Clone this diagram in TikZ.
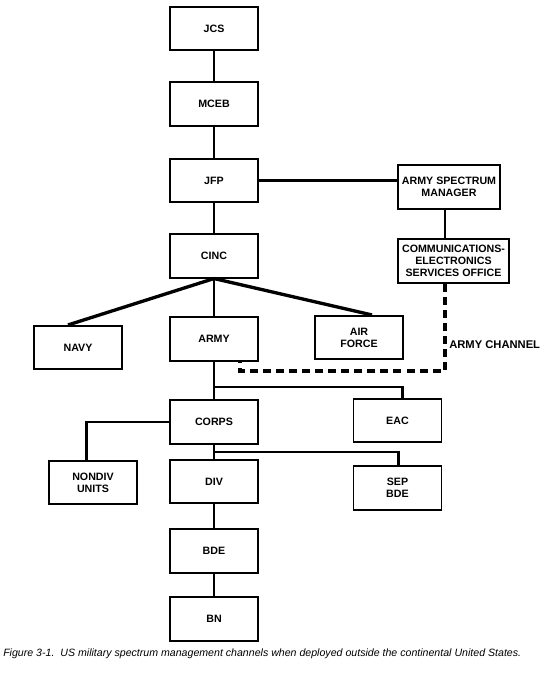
\documentclass[tikz,border=0pt]{standalone}
\usepackage{fontspec}
\setmainfont{Liberation Sans}
\begin{document}
\begin{tikzpicture}[x=0.75pt,y=-0.75pt,
  box/.style={draw,line width=1.3pt,minimum width=66pt,minimum height=32.5pt,
    inner sep=1pt,align=center,font=\bfseries\fontsize{8}{9}\selectfont},
  link/.style={line width=2.1pt},
  channel/.style={line width=2.6pt,dash pattern=on 6pt off 3.8pt}]
\useasboundingbox (0,0) rectangle (550,685);
% command chain
\node[box] (jcs) at (214,28.5) {JCS};
\node[box] (mceb) at (214,104) {MCEB};
\node[box] (jfp) at (214,180.5) {JFP};
\node[box] (cinc) at (214,256) {CINC};
% services
\node[box] (navy) at (78,347.5) {NAVY};
\node[box] (army) at (214,339) {ARMY};
\node[box] (airforce) at (359,337.5) {AIR\\FORCE};
% army side
\node[box] (corps) at (214,422) {CORPS};
\node[box] (eac) at (397.5,420.5) {EAC};
\node[box] (nondiv) at (93,482.5) {NONDIV\\UNITS};
\node[box] (div) at (214,481.5) {DIV};
\node[box] (sepbde) at (397.5,488) {SEP\\BDE};
\node[box] (bde) at (214,551) {BDE};
\node[box] (bn) at (214,619) {BN};
% spectrum manager
\node[box,minimum width=76.5pt,minimum height=33pt] (asm) at (449,187) {ARMY SPECTRUM\\MANAGER};
\node[box,minimum width=83pt,minimum height=33pt] (ceso) at (453.5,261) {COMMUNICATIONS-\\ELECTRONICS\\SERVICES OFFICE};
\coordinate (chan) at (445,371);
\coordinate (chancorner) at (240,371);
\coordinate (eacbr) at (214,387);
\coordinate (sepbr) at (214,452);
% connectors
\draw[link] (jcs) -- (mceb);
\draw[link] (mceb) -- (jfp);
\draw[link] (jfp) -- (cinc);
\draw[link] (jfp.east) -- (jfp.east -| asm.west);
\draw[link] (asm.south -| chan) -- (ceso.north -| chan);
\draw[link,line width=2.5pt] (cinc.south) -- ([xshift=-7.5pt]navy.north);
\draw[link,line width=2.5pt] (cinc.south) -- ([xshift=9.75pt]airforce.north);
\draw[link] (cinc.south) -- (army.north);
\draw[link] (army.south) -- (corps.north);
\draw[link] (eacbr) -| ([xshift=4pt]eac.north);
\draw[link] (corps.west) -| ([xshift=-5pt]nondiv.north);
\draw[link] (corps.south) -- (div.north);
\draw[link] (sepbr) -| ([xshift=1pt]sepbde.north);
\draw[link] (div) -- (bde);
\draw[link] (bde) -- (bn);
\draw[channel] (ceso.south -| chan) -- (chan) -- (chancorner) -- (chancorner |- army.south);
\node[anchor=west,font=\bfseries\fontsize{8.4}{9}\selectfont,inner sep=0pt] (chanlabel) at (449,345) {ARMY CHANNEL};
% caption
\node[anchor=west,font=\itshape\fontsize{7.95}{9}\selectfont,inner sep=0pt] (caption) at (3,654) {Figure 3-1.\ \ US military spectrum management channels when deployed outside the continental United States.};
\end{tikzpicture}
\end{document}
